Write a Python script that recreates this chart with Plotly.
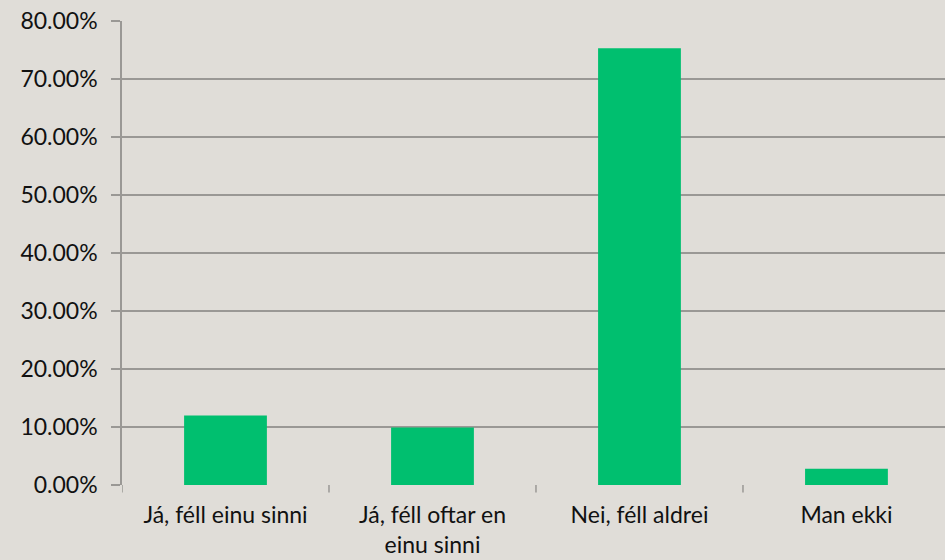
import plotly.graph_objects as go

categories = ["Já, féll einu sinni", "Já, féll oftar en<br>einu sinni", "Nei, féll aldrei", "Man ekki"]
values = [0.120, 0.099, 0.753, 0.028]
y_ticks = [0, 0.1, 0.2, 0.3, 0.4, 0.5, 0.6, 0.7, 0.8]

fig = go.Figure(go.Bar(
    x=list(range(len(categories))), y=values,
    marker=dict(color="#00bf6f", line=dict(width=0)),
    width=0.4, hoverinfo="skip"))

font = "Lato, 'Open Sans', sans-serif"
fig.update_layout(
    width=945, height=560,
    margin=dict(l=122, r=0, t=21, b=75),
    paper_bgcolor="#e0ddd8", plot_bgcolor="#e0ddd8",
    font=dict(family=font, size=23, color="#111111"),
    showlegend=False,
    xaxis=dict(
        range=[-0.5, 3.476], tickmode="array",
        tickvals=list(range(len(categories))), ticktext=categories,
        showgrid=False, zeroline=False, showline=False,
        ticks="", ticklabelstandoff=14,
    ),
    yaxis=dict(
        range=[0, 0.8], tickvals=y_ticks, tickformat=".2%",
        showgrid=True, gridcolor="#9a9895", gridwidth=1.5,
        showline=True, linecolor="#9a9895", linewidth=1.5,
        ticks="outside", ticklen=9, tickcolor="#9a9895", tickwidth=1.5,
        zeroline=False, ticklabelstandoff=9,
    ),
)
# x-axis tick marks at category boundaries
for b in [-0.5, 0.5, 1.5, 2.5]:
    fig.add_shape(type="line", xref="x", yref="paper", x0=b, x1=b, y0=0, y1=-0.016,
                  line=dict(color="#9a9895", width=1.5))
fig.write_html("out.html", config={"displayModeBar": False},
               post_script="document.body.style.margin='0';")
